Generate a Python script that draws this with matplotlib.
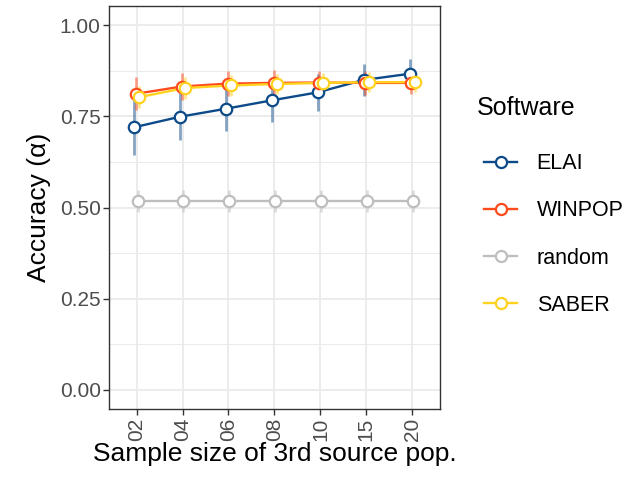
import numpy as np
import matplotlib
matplotlib.use("Agg")
import matplotlib.pyplot as plt
from matplotlib.lines import Line2D

plt.rcParams["font.family"] = ["Liberation Sans", "DejaVu Sans"]

sizes = ["02", "04", "06", "08", "10", "15", "20"]
software = ["ELAI", "WINPOP", "random", "SABER"]
colors = ["#0C4A89", "#FF4A1C", "#BEBEBE", "#FFD21F"]

elai = [0.720, 0.749, 0.771, 0.794, 0.816, 0.850, 0.867]
elai_err = [0.075, 0.065, 0.060, 0.058, 0.050, 0.045, 0.040]
winpop = [0.812, 0.832, 0.840, 0.842, 0.843, 0.842, 0.842]
winpop_err = [0.045, 0.037, 0.035, 0.035, 0.033, 0.033, 0.030]
random_ = [0.519, 0.519, 0.519, 0.519, 0.519, 0.519, 0.519]
random_err = [0.030, 0.030, 0.030, 0.030, 0.030, 0.030, 0.030]
saber = [0.803, 0.828, 0.835, 0.839, 0.842, 0.844, 0.844]
saber_err = [0.030, 0.030, 0.028, 0.028, 0.028, 0.028, 0.028]

means = [elai, winpop, random_, saber]
errs = [elai_err, winpop_err, random_err, saber_err]
dodge = [-0.06, -0.02, 0.02, 0.06]

fig = plt.figure(figsize=(6.23, 4.82), dpi=100)
ax = fig.add_axes([0.175, 0.1515, 0.531, 0.836])

x = np.arange(len(sizes))
# error bars first, then lines with open points
for m, e, c, d in zip(means, errs, colors, dodge):
    m = np.array(m)
    e = np.array(e)
    ax.vlines(x + d, m - e, m + e, color=c, lw=2, alpha=0.5, zorder=2)
handles = []
for name, m, c, d in zip(software, means, colors, dodge):
    ax.plot(x + d, m, color=c, lw=1.7, zorder=3)
    ax.plot(x + d, m, "o", ms=8.2, mfc="white", mec=c, mew=1.6, zorder=4)
    handles.append(Line2D([], [], color=c, lw=1.7, marker="o", ms=8,
                          mfc="white", mec=c, mew=1.6))

ax.set_xlim(-0.6, len(sizes) - 1 + 0.6)
ax.set_ylim(-0.053, 1.053)
ax.set_xticks(x)
ax.set_xticklabels(sizes, rotation=90)
ax.set_yticks([0, 0.25, 0.5, 0.75, 1.0])
ax.set_yticklabels(["0.00", "0.25", "0.50", "0.75", "1.00"])
ax.set_yticks([0.125, 0.375, 0.625, 0.875], minor=True)
ax.tick_params(axis="both", which="major", labelsize=15, labelcolor="#4D4D4D",
               color="#333333", length=4, width=1, pad=2)
ax.tick_params(axis="y", which="minor", length=0)
ax.grid(True, which="major", color="#EBEBEB", lw=1.3, zorder=0)
ax.grid(True, which="minor", axis="y", color="#EBEBEB", lw=0.7, zorder=0)
ax.set_axisbelow(True)
for s in ax.spines.values():
    s.set_color("#333333")
    s.set_linewidth(1)

ax.set_xlabel("Sample size of 3rd source pop.", fontsize=19, labelpad=1)
ax.set_ylabel("Accuracy (α)", fontsize=19, labelpad=6)

fig.text(477 / 623, 1 - 108 / 482, "Software", fontsize=18, va="center",
         ha="left")
leg = fig.legend(handles, software, loc="upper left",
                 bbox_to_anchor=(0.763, 0.70), frameon=False, fontsize=15.5,
                 handlelength=1.55, labelspacing=1.22, handletextpad=0.9,
                 borderaxespad=0)

fig.savefig("out.png", dpi=100)
